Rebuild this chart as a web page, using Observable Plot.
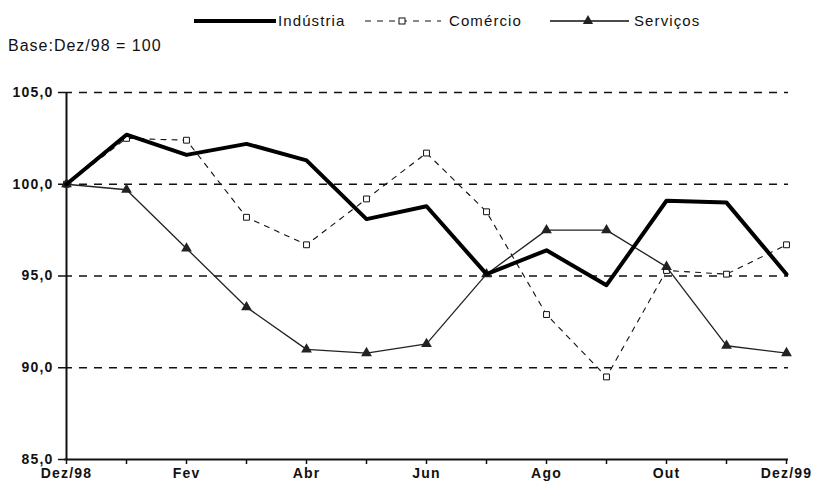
<!DOCTYPE html>
<html>
<head>
<meta charset="utf-8">
<script src="https://cdn.jsdelivr.net/npm/d3@7"></script>
<script src="https://cdn.jsdelivr.net/npm/@observablehq/plot@0.6"></script>
<style>
  html, body { margin: 0; padding: 0; background: #fff; }
  #wrap { width: 818px; height: 488px; position: relative; overflow: hidden; font-family: "Liberation Sans", Arial, sans-serif; }
  #top { position: relative; width: 818px; height: 60px; }
  #legend { position: absolute; left: 0; top: 0; }
  #base { position: absolute; left: 8px; top: 37px; font-size: 16px; letter-spacing: 1px; color: #111; }
  #chart svg { display: block; }
</style>
</head>
<body>
<div id="wrap">
  <div id="top">
    <svg id="legend" width="818" height="36"></svg>
    <div id="base">Base:Dez/98 = 100</div>
  </div>
  <div id="chart"></div>
</div>
<script>
const months = ["Dez/98","Jan","Fev","Mar","Abr","Mai","Jun","Jul","Ago","Set","Out","Nov","Dez/99"];
const industria = [100, 102.7, 101.6, 102.2, 101.3, 98.1, 98.8, 95.1, 96.4, 94.5, 99.1, 99.0, 95.1];
const comercio  = [100, 102.5, 102.4, 98.2, 96.7, 99.2, 101.7, 98.5, 92.9, 89.5, 95.3, 95.1, 96.7];
const servicos  = [100, 99.7, 96.5, 93.3, 91.0, 90.8, 91.3, 95.1, 97.5, 97.5, 95.5, 91.2, 90.8];
const yTicks = [85, 90, 95, 100, 105];
const gridTicks = [90, 95, 100, 105];
const seriesNames = ["Indústria", "Comércio", "Serviços"];

const FONT = "'Liberation Sans', Arial, sans-serif";
const rows = (vals) => months.map((m, i) => ({month: m, value: vals[i]}));
const ind = rows(industria), com = rows(comercio), ser = rows(servicos);

// Legend
const lg = d3.select("#legend");
const ly = 21;
lg.append("line").attr("x1", 194).attr("x2", 276).attr("y1", ly).attr("y2", ly).attr("stroke", "#000").attr("stroke-width", 4);
lg.append("text").attr("x", 278).attr("y", ly + 5).text(seriesNames[0]);
lg.append("line").attr("x1", 365).attr("x2", 441).attr("y1", ly).attr("y2", ly).attr("stroke", "#111").attr("stroke-width", 1.2).attr("stroke-dasharray", "6,6");
lg.append("rect").attr("x", 399).attr("y", ly - 3).attr("width", 6).attr("height", 6).attr("fill", "#fff").attr("stroke", "#111");
lg.append("text").attr("x", 449).attr("y", ly + 5).text(seriesNames[1]);
lg.append("line").attr("x1", 550).attr("x2", 629).attr("y1", ly).attr("y2", ly).attr("stroke", "#111").attr("stroke-width", 1.4);
lg.append("path").attr("d", d3.symbol(d3.symbolTriangle, 45)()).attr("transform", `translate(588,${ly})`).attr("fill", "#222");
lg.append("text").attr("x", 634).attr("y", ly + 5).text(seriesNames[2]);
lg.selectAll("text").attr("font-size", 15).attr("letter-spacing", 1.1).attr("fill", "#111").style("font-family", FONT);

const chart = Plot.plot({
  width: 818,
  height: 428,
  marginTop: 32,
  marginBottom: 29,
  marginLeft: 64,
  marginRight: 30,
  style: {fontFamily: FONT, fontSize: "14px", fontWeight: "bold", letterSpacing: "1.2px", color: "#111", background: "#fff"},
  x: {type: "point", domain: months, padding: 0},
  y: {domain: [85, 105]},
  marks: [
    Plot.ruleY(gridTicks, {stroke: "#111", strokeWidth: 1.6, strokeDasharray: "8,7"}),
    Plot.axisY({ticks: yTicks, tickFormat: d => d.toFixed(1).replace(".", ","), tickSize: 6, tickPadding: 5, stroke: "#111", strokeWidth: 1.5, strokeOpacity: 1, fill: "#111", label: null}),
    Plot.axisX({tickFormat: (d, i) => i % 2 === 0 ? d : "", tickSize: 5, tickPadding: 4, stroke: "#111", strokeWidth: 1.5, strokeOpacity: 1, fill: "#111", label: null}),
    Plot.ruleX([months[0]], {stroke: "#111", strokeWidth: 2}),
    Plot.ruleY([85], {stroke: "#111", strokeWidth: 2}),
    Plot.line(com, {x: "month", y: "value", stroke: "#111", strokeWidth: 1.1, strokeDasharray: "5,6"}),
    Plot.dot(com, {x: "month", y: "value", symbol: "square", r: 3.3, fill: "#fff", stroke: "#111", strokeWidth: 1}),
    Plot.line(ser, {x: "month", y: "value", stroke: "#222", strokeWidth: 1.3}),
    Plot.dot(ser, {x: "month", y: "value", symbol: "triangle", r: 4, fill: "#222"}),
    Plot.line(ind, {x: "month", y: "value", stroke: "#000", strokeWidth: 4})
  ]
});
document.getElementById("chart").appendChild(chart);
</script>
</body>
</html>
